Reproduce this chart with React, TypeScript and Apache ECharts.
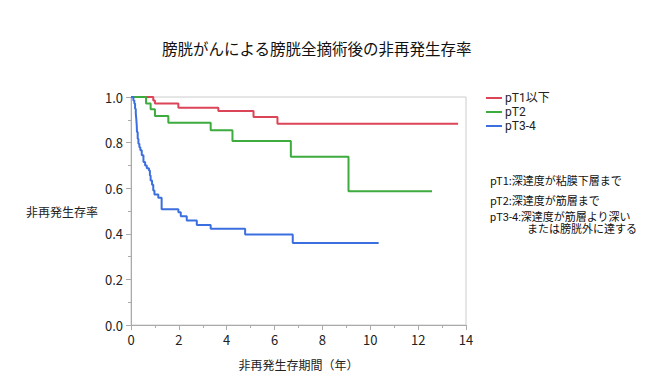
import React, { useEffect, useRef } from "react";
import * as echarts from "echarts";

const titleText = "膀胱がんによる膀胱全摘術後の非再発生存率";
const xAxisName = "非再発生存期間（年）";
const yAxisName = "非再発生存率";
const seriesNames = ["pT1以下", "pT2", "pT3-4"];
const colors = ["#dc4457", "#3dab3d", "#3b6fe0"];

// [time (years), survival after step]
const pT1: [number, number][] = [
  [0, 1.0], [0.93, 0.985], [1.0, 0.971], [1.98, 0.953], [3.65, 0.939],
  [5.12, 0.912], [6.12, 0.883], [13.67, 0.883],
];
const pT2: [number, number][] = [
  [0, 1.0], [0.63, 0.971], [0.82, 0.946], [1.0, 0.917], [1.56, 0.887],
  [3.33, 0.854], [4.24, 0.807], [6.68, 0.738], [9.09, 0.587], [12.58, 0.587],
];
const pT34: [number, number][] = [
  [0, 1.0], [0.1, 0.985], [0.14, 0.971], [0.17, 0.949], [0.2, 0.927],
  [0.22, 0.905], [0.24, 0.876], [0.25, 0.846], [0.28, 0.817], [0.31, 0.795],
  [0.35, 0.78], [0.39, 0.766], [0.45, 0.744], [0.52, 0.715], [0.59, 0.7],
  [0.66, 0.688], [0.75, 0.678], [0.79, 0.656], [0.82, 0.634], [0.88, 0.615],
  [0.93, 0.59], [0.98, 0.572], [1.14, 0.558], [1.28, 0.508], [1.98, 0.495],
  [2.08, 0.477], [2.33, 0.458], [2.75, 0.439], [3.33, 0.422], [4.77, 0.397],
  [6.76, 0.36], [10.35, 0.36],
];
const seriesData = [pT1, pT2, pT34];

const notes = [
  "pT1:深達度が粘膜下層まで",
  "pT2:深達度が筋層まで",
  "pT3-4:深達度が筋層より深い",
  "または膀胱外に達する",
];

const FONT = "'Noto Sans CJK JP', 'Noto Sans', sans-serif";
const TIGHT = "Roboto, 'Noto Sans CJK JP', sans-serif";

export default function App() {
  const ref = useRef<HTMLDivElement>(null);
  useEffect(() => {
    if (!ref.current) return;
    const chart = echarts.init(ref.current, undefined, { renderer: "svg" });
    chart.setOption({
      animation: false,
      textStyle: { fontFamily: FONT },
      title: {
        text: titleText,
        left: 157,
        top: 35,
        textStyle: { fontSize: 15.5, fontWeight: "normal", color: "#111", fontFamily: FONT },
      },
      legend: {
        orient: "vertical",
        left: 481,
        top: 86,
        itemWidth: 16,
        itemHeight: 2,
        itemGap: 0,
        icon: "rect",
        textStyle: { fontSize: 12, color: "#222", lineHeight: 14, padding: [0, 0, 0, -2], fontFamily: TIGHT },
        data: seriesNames,
      },
      grid: {
        left: 131,
        right: 194,
        top: 97,
        bottom: 66,
        show: true,
        borderColor: "#cccccc",
        borderWidth: 1,
        backgroundColor: "transparent",
      },
      xAxis: {
        type: "value",
        min: 0,
        max: 14,
        interval: 2,
        name: xAxisName,
        nameLocation: "middle",
        nameGap: 33,
        nameTextStyle: { fontSize: 12, color: "#222", fontFamily: FONT },
        axisLine: { show: true, lineStyle: { color: "#aaaaaa" } },
        axisTick: { show: true, inside: false, length: 5, lineStyle: { color: "#aaaaaa" } },
        minorTick: { show: true, splitNumber: 2, length: 3, lineStyle: { color: "#aaaaaa" } },
        axisLabel: { fontSize: 13, color: "#222", margin: 8, fontFamily: FONT },
        splitLine: { show: false },
      },
      yAxis: {
        type: "value",
        min: 0,
        max: 1,
        interval: 0.2,
        name: yAxisName,
        nameLocation: "middle",
        nameRotate: 0,
        nameGap: 69,
        nameTextStyle: { fontSize: 12, color: "#222", align: "center", fontFamily: FONT },
        axisLine: { show: true, lineStyle: { color: "#aaaaaa" } },
        axisTick: { show: true, inside: false, length: 5, lineStyle: { color: "#aaaaaa" } },
        minorTick: { show: true, splitNumber: 2, length: 3, lineStyle: { color: "#aaaaaa" } },
        axisLabel: {
          fontSize: 13,
          color: "#222",
          margin: 8,
          fontFamily: FONT,
          formatter: (v: number) => v.toFixed(1),
        },
        splitLine: { show: false },
      },
      series: seriesData.map((d, i) => ({
        name: seriesNames[i],
        type: "line",
        step: "end",
        data: d,
        symbol: "none",
        color: colors[i],
        lineStyle: { width: 2, color: colors[i] },
      })),
      graphic: [
        {
          type: "text",
          left: 490,
          top: 174,
          style: { text: notes[0], fontSize: 11, fill: "#111", fontFamily: FONT },
        },
        {
          type: "text",
          left: 490,
          top: 194,
          style: { text: notes[1], fontSize: 11, fill: "#111", fontFamily: FONT },
        },
        {
          type: "text",
          left: 490,
          top: 211,
          style: {
            text: notes[2] + "\n{ind| }" + notes[3],
            fontSize: 11,
            lineHeight: 12.5,
            fill: "#111",
            fontFamily: TIGHT,
            rich: { ind: { width: 37, fontSize: 11, lineHeight: 12.5, fontFamily: TIGHT } },
          },
        },
      ],
    });
    return () => chart.dispose();
  }, []);
  return <div ref={ref} style={{ width: 660, height: 391, margin: -8 }} />;
}
